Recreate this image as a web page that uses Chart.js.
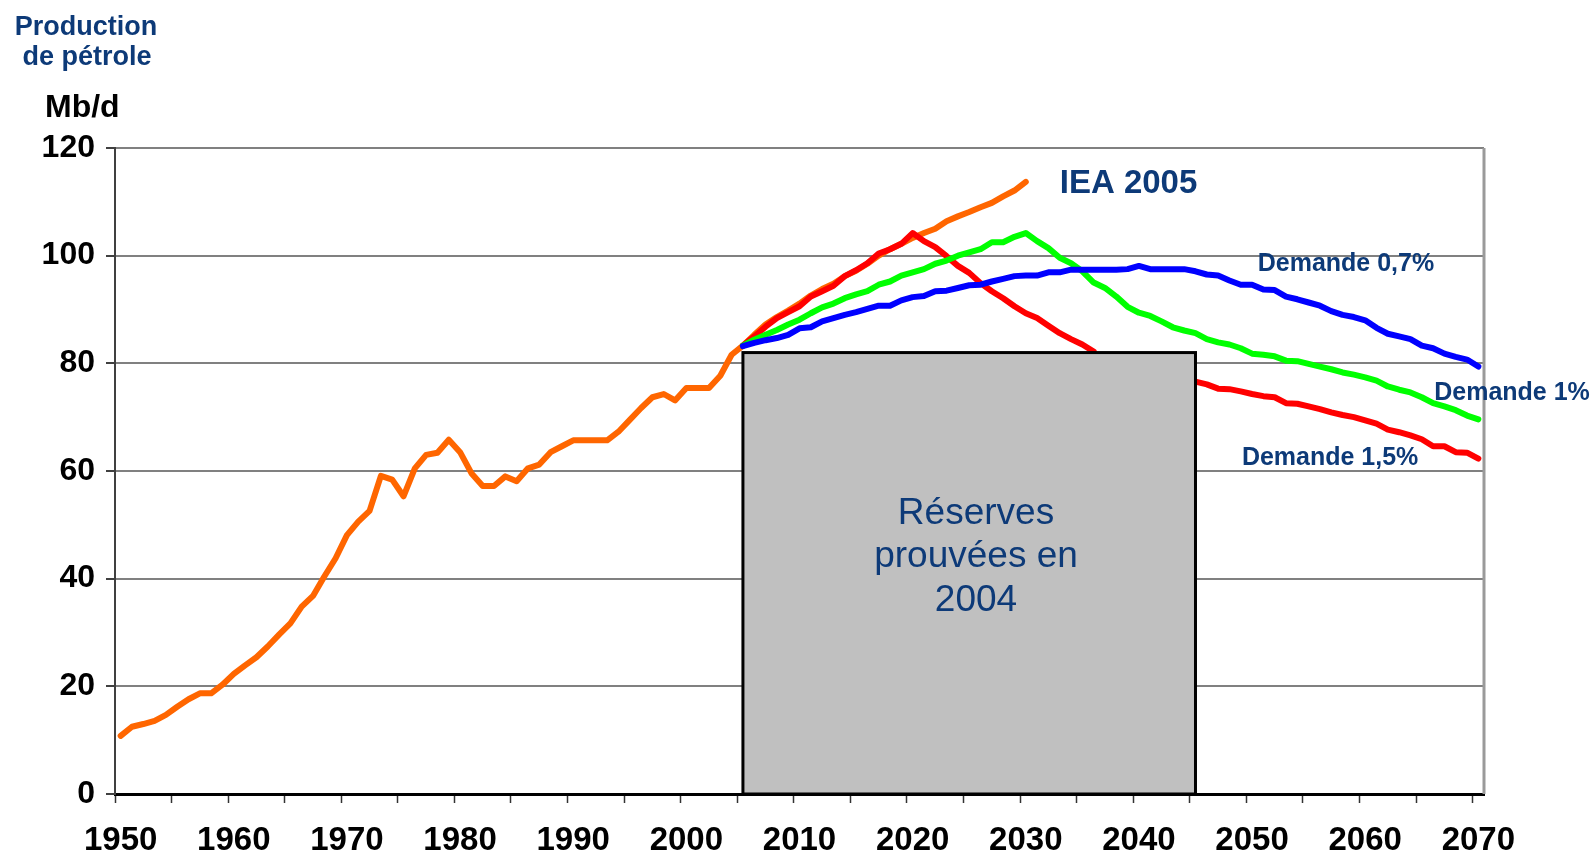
<!DOCTYPE html>
<html>
<head>
<meta charset="utf-8">
<title>Production de pétrole</title>
<script src="https://cdn.jsdelivr.net/npm/chart.js@4.4.1/dist/chart.umd.min.js"></script>
<style>
  html, body { margin: 0; padding: 0; background: #fff; }
  canvas { display: block; }
</style>
</head>
<body>
<canvas id="oilChart" width="1594" height="855"></canvas>
<script>
// --- data (Mb/d), one value per year ---
const histStart = 1950;
const histProd = [
  10.8, 12.5, 13.0, 13.6, 14.7, 16.2, 17.6, 18.7, 18.7, 20.3,
  22.3, 23.9, 25.4, 27.4, 29.6, 31.7, 34.8, 36.8, 40.4, 43.8,
  48.1, 50.6, 52.6, 59.1, 58.4, 55.3, 60.5, 63.0, 63.4, 65.8,
  63.5, 59.6, 57.2, 57.2, 59.0, 58.1, 60.5, 61.2, 63.5, 64.6,
  65.7, 65.7, 65.7, 65.7, 67.3, 69.5, 71.7, 73.7, 74.3, 73.1,
  75.4, 75.4, 75.4, 77.7, 81.6, 83.3
];

const ieaStart = 2005;
const iea2005 = [
  83.3, 85.3, 87.2, 88.6, 89.8, 91.1, 92.6, 93.8, 94.8, 96.2,
  97.2, 98.5, 100.0, 101.2, 102.2, 103.3, 104.2, 105.0, 106.4, 107.3,
  108.1, 109.0, 109.8, 111.0, 112.1, 113.7
];

const scenStart = 2005;
// 2037-2044 hidden behind the reserves box
const demand15 = [
  83.3, 85.0, 86.8, 88.4, 89.5, 90.6, 92.4, 93.4, 94.4, 96.2,
  97.3, 98.6, 100.4, 101.2, 102.2, 104.2, 102.7, 101.6, 99.9, 98.1,
  96.8, 94.9, 93.4, 92.1, 90.6, 89.3, 88.4, 87.0, 85.6, 84.5,
  83.5, 82.2, null, null, null, null, null, null, null, null,
  76.6, 76.1, 75.3, 75.2, 74.8, 74.3, 73.9, 73.7, 72.6, 72.5,
  72.0, 71.5, 70.9, 70.4, 70.0, 69.4, 68.8, 67.7, 67.2, 66.6,
  65.9, 64.6, 64.6, 63.5, 63.4, 62.3
];
const demand10 = [
  83.3, 84.4, 85.3, 86.2, 87.2, 88.1, 89.3, 90.4, 91.1, 92.1,
  92.8, 93.4, 94.6, 95.2, 96.3, 96.9, 97.5, 98.5, 99.1, 100.0,
  100.6, 101.2, 102.5, 102.5, 103.5, 104.2, 102.7, 101.4, 99.6, 98.6,
  97.1, 95.0, 94.0, 92.4, 90.5, 89.4, 88.8, 87.8, 86.7, 86.1,
  85.6, 84.5, 83.9, 83.5, 82.8, 81.8, 81.6, 81.3, 80.5, 80.4,
  79.9, 79.4, 78.9, 78.3, 77.9, 77.4, 76.8, 75.7, 75.1, 74.6,
  73.7, 72.6, 72.0, 71.3, 70.3, 69.6
];
const demand07 = [
  83.2, 83.8, 84.3, 84.7, 85.3, 86.5, 86.7, 87.8, 88.4, 89.0,
  89.5, 90.1, 90.7, 90.7, 91.7, 92.3, 92.5, 93.4, 93.5, 94.0,
  94.5, 94.6, 95.2, 95.7, 96.2, 96.3, 96.3, 96.9, 96.9, 97.4,
  97.4, 97.4, 97.4, 97.4, 97.5, 98.1, 97.5, 97.5, 97.5, 97.5,
  97.1, 96.5, 96.3, 95.4, 94.6, 94.6, 93.7, 93.6, 92.4, 91.9,
  91.3, 90.7, 89.7, 89.0, 88.6, 88.0, 86.6, 85.5, 85.0, 84.5,
  83.3, 82.8, 81.8, 81.2, 80.7, 79.4
];

const xLabelYears = [1950, 1960, 1970, 1980, 1990, 2000, 2010, 2020, 2030, 2040, 2050, 2060, 2070];
const yTickValues = [0, 20, 40, 60, 80, 100, 120];

// proved reserves box: from year, to year, height (Mb/d)
const reserveBox = [2005, 2045, 82];
const reserveText = ['Réserves', 'prouvées en', '2004'];

// --- style ---
const FONT = '"Liberation Sans", Arial, Helvetica, sans-serif';
const NAVY = '#0d3a78';

const toPoints = (start, arr) => arr.map((v, i) => ({ x: start + i, y: v }));

const lineStyle = color => ({
  borderColor: color,
  backgroundColor: color,
  borderWidth: 6,
  pointRadius: 0,
  tension: 0,
  fill: false,
  spanGaps: false,
  borderCapStyle: 'round',
  borderJoinStyle: 'round',
});

// annotation anchors in data units (x = year, y = Mb/d, text baseline)
const labels = [
  { text: 'IEA 2005',      x: 2033.0, y: 111.6, size: 33 },
  { text: 'Demande 0,7%',  x: 2050.5, y: 97.2,  size: 25 },
  { text: 'Demande 1%',    x: 2066.1, y: 73.2,  size: 25 },
  { text: 'Demande 1,5%',  x: 2049.1, y: 61.1,  size: 25 },
];

const overlay = {
  id: 'overlay',
  afterDatasetsDraw(chart) {
    const { ctx, chartArea: a, scales: { x, y } } = chart;
    ctx.save();

    // right frame line
    ctx.strokeStyle = '#9a9a9a';
    ctx.lineWidth = 3;
    ctx.beginPath();
    ctx.moveTo(a.right, a.top);
    ctx.lineTo(a.right, a.bottom);
    ctx.stroke();

    // reserves box
    const x0 = x.getPixelForValue(reserveBox[0]);
    const x1 = x.getPixelForValue(reserveBox[1]);
    const yt = y.getPixelForValue(reserveBox[2]);
    const yb = y.getPixelForValue(0);
    ctx.fillStyle = '#c0c0c0';
    ctx.fillRect(x0, yt, x1 - x0, yb - yt);
    ctx.strokeStyle = '#000';
    ctx.lineWidth = 3;
    ctx.strokeRect(x0, yt, x1 - x0, yb - yt);

    ctx.fillStyle = NAVY;
    ctx.font = `37px ${FONT}`;
    ctx.textAlign = 'center';
    ctx.textBaseline = 'alphabetic';
    const cx = x.getPixelForValue(2025.6);
    const firstBase = y.getPixelForValue(50.2);
    reserveText.forEach((t, i) => ctx.fillText(t, cx, firstBase + i * 43.5));

    // series labels
    ctx.textAlign = 'left';
    labels.forEach(l => {
      ctx.font = `bold ${l.size}px ${FONT}`;
      ctx.fillText(l.text, x.getPixelForValue(l.x), y.getPixelForValue(l.y));
    });

    // titles outside the plot
    ctx.textAlign = 'center';
    ctx.font = `bold 27px ${FONT}`;
    ctx.fillText('Production', 86, 35);
    ctx.fillText('de pétrole', 87, 65);
    ctx.fillStyle = '#000';
    ctx.textAlign = 'left';
    ctx.font = `bold 32px ${FONT}`;
    ctx.fillText('Mb/d', 45, 117);

    ctx.restore();
  }
};

Chart.defaults.font.family = FONT;

new Chart(document.getElementById('oilChart').getContext('2d'), {
  type: 'line',
  data: {
    datasets: [
      { label: 'Demande 0,7%', data: toPoints(scenStart, demand07), ...lineStyle('#0000ff') },
      { label: 'Demande 1%',   data: toPoints(scenStart, demand10), ...lineStyle('#00ff00') },
      { label: 'Demande 1,5%', data: toPoints(scenStart, demand15), ...lineStyle('#ff0000') },
      { label: 'IEA 2005',     data: toPoints(ieaStart, iea2005),   ...lineStyle('#ff6600') },
      { label: 'Historique',   data: toPoints(histStart, histProd), ...lineStyle('#ff6600') },
    ],
  },
  options: {
    responsive: false,
    devicePixelRatio: 1,
    animation: false,
    layout: { padding: { top: 148, right: 110, left: 0, bottom: 0 } },
    plugins: {
      legend: { display: false },
      tooltip: { enabled: false },
    },
    scales: {
      x: {
        type: 'linear',
        min: 1949.5,
        max: 2070.5,
        afterFit(s) { s.height = 61; },
        afterBuildTicks(s) {
          const t = xLabelYears.map(v => ({ value: v }));
          for (let v = 1949.5; v < 2070.5; v += 5) t.push({ value: v });
          t.sort((p, q) => p.value - q.value);
          s.ticks = t;
        },
        grid: {
          drawOnChartArea: false,
          drawTicks: true,
          tickLength: 9,
          tickWidth: 1.5,
          tickColor: c => (c.tick && Number.isInteger(c.tick.value)) ? 'rgba(0,0,0,0)' : '#333',
        },
        border: { display: true, color: '#000', width: 3 },
        ticks: {
          autoSkip: false,
          maxRotation: 0,
          padding: 18,
          color: '#000',
          font: { size: 33, weight: 'bold' },
          callback: v => xLabelYears.includes(v) ? String(v) : '',
        },
      },
      y: {
        min: 0,
        max: 120,
        afterFit(s) { s.width = 115; },
        afterBuildTicks(s) { s.ticks = yTickValues.map(v => ({ value: v })); },
        grid: {
          color: '#808080',
          lineWidth: 2,
          tickLength: 9,
          tickColor: '#000',
          tickWidth: 1.5,
        },
        border: { display: true, color: '#404040', width: 2 },
        ticks: {
          padding: 11,
          color: '#000',
          font: { size: 32, weight: 'bold' },
        },
      },
    },
  },
  plugins: [overlay],
});
</script>
</body>
</html>
